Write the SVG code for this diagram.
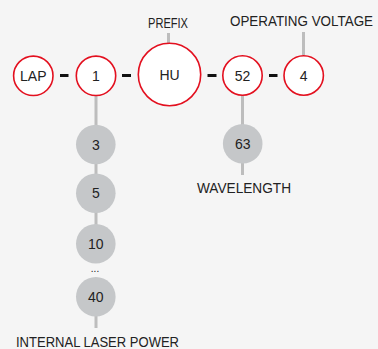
<svg xmlns="http://www.w3.org/2000/svg" width="378" height="349" viewBox="0 0 378 349">
<style>
.bg{fill:#f5f5f5}
.red{fill:#ffffff;stroke:#e3101f;stroke-width:1.6}
.grey{fill:#c5c7c9}
.link{stroke:#bdbdbd;stroke-width:3;fill:none}
.dash{stroke:#111;stroke-width:3}
.t{font-family:"Liberation Sans",Arial,sans-serif;font-size:14px;fill:#222;text-anchor:middle}
.lbl{font-family:"Liberation Sans",Arial,sans-serif;font-size:14px;fill:#222}
</style>
<rect class="bg" x="0" y="0" width="378" height="349"/>
<g id="connectors">
<line class="link" x1="168.5" y1="33" x2="168.5" y2="44"/>
<line class="link" x1="303.5" y1="32" x2="303.5" y2="55"/>
<line class="link" x1="96" y1="95" x2="96" y2="126"/>
<line class="link" x1="96" y1="163" x2="96" y2="175"/>
<line class="link" x1="96" y1="212" x2="96" y2="225"/>
<line class="link" x1="96" y1="316" x2="96" y2="328"/>
<line class="link" x1="242.5" y1="95" x2="242.5" y2="125"/>
<line class="link" x1="242.5" y1="162" x2="242.5" y2="175"/>
<line class="dash" x1="60" y1="75.5" x2="68.5" y2="75.5"/>
<line class="dash" x1="122" y1="75.5" x2="131" y2="75.5"/>
<line class="dash" x1="207.5" y1="75.5" x2="216.5" y2="75.5"/>
<line class="dash" x1="269" y1="75.5" x2="277.5" y2="75.5"/>
</g>
<g id="node-lap"><circle class="red" cx="33.3" cy="75.8" r="19.7"/><text class="t" x="33.3" y="80.8">LAP</text></g>
<g id="node-1"><circle class="red" cx="96" cy="75.8" r="19.7"/><text class="t" x="96" y="80.8">1</text></g>
<g id="node-hu"><circle class="red" cx="169.5" cy="74.5" r="31.2"/><text class="t" x="169.5" y="80">HU</text></g>
<g id="node-52"><circle class="red" cx="242.5" cy="75.5" r="19.7"/><text class="t" x="242.5" y="80.5">52</text></g>
<g id="node-4"><circle class="red" cx="303.7" cy="75.5" r="19.7"/><text class="t" x="303.7" y="80.5">4</text></g>
<g id="node-3"><circle class="grey" cx="95.8" cy="144.5" r="19.8"/><text class="t" x="95.8" y="149.5">3</text></g>
<g id="node-5"><circle class="grey" cx="95.8" cy="193.2" r="19.8"/><text class="t" x="95.8" y="198.2">5</text></g>
<g id="node-10"><circle class="grey" cx="95.8" cy="243.8" r="19.8"/><text class="t" x="95.8" y="248.8">10</text></g>
<g id="node-40"><circle class="grey" cx="95.8" cy="296.8" r="19.8"/><text class="t" x="95.8" y="301.8">40</text></g>
<g id="node-63"><circle class="grey" cx="242.7" cy="143.7" r="19.8"/><text class="t" x="242.7" y="148.7">63</text></g>
<g id="labels">
<text class="t" x="95" y="272" style="font-size:10px">...</text>
<text class="lbl" x="148" y="28" textLength="40" lengthAdjust="spacingAndGlyphs">PREFIX</text>
<text class="lbl" x="230" y="26" textLength="143" lengthAdjust="spacingAndGlyphs">OPERATING VOLTAGE</text>
<text class="lbl" x="197" y="192.5" textLength="94" lengthAdjust="spacingAndGlyphs">WAVELENGTH</text>
<text class="lbl" x="16" y="346.5" textLength="163" lengthAdjust="spacingAndGlyphs">INTERNAL LASER POWER</text>
</g>
</svg>
